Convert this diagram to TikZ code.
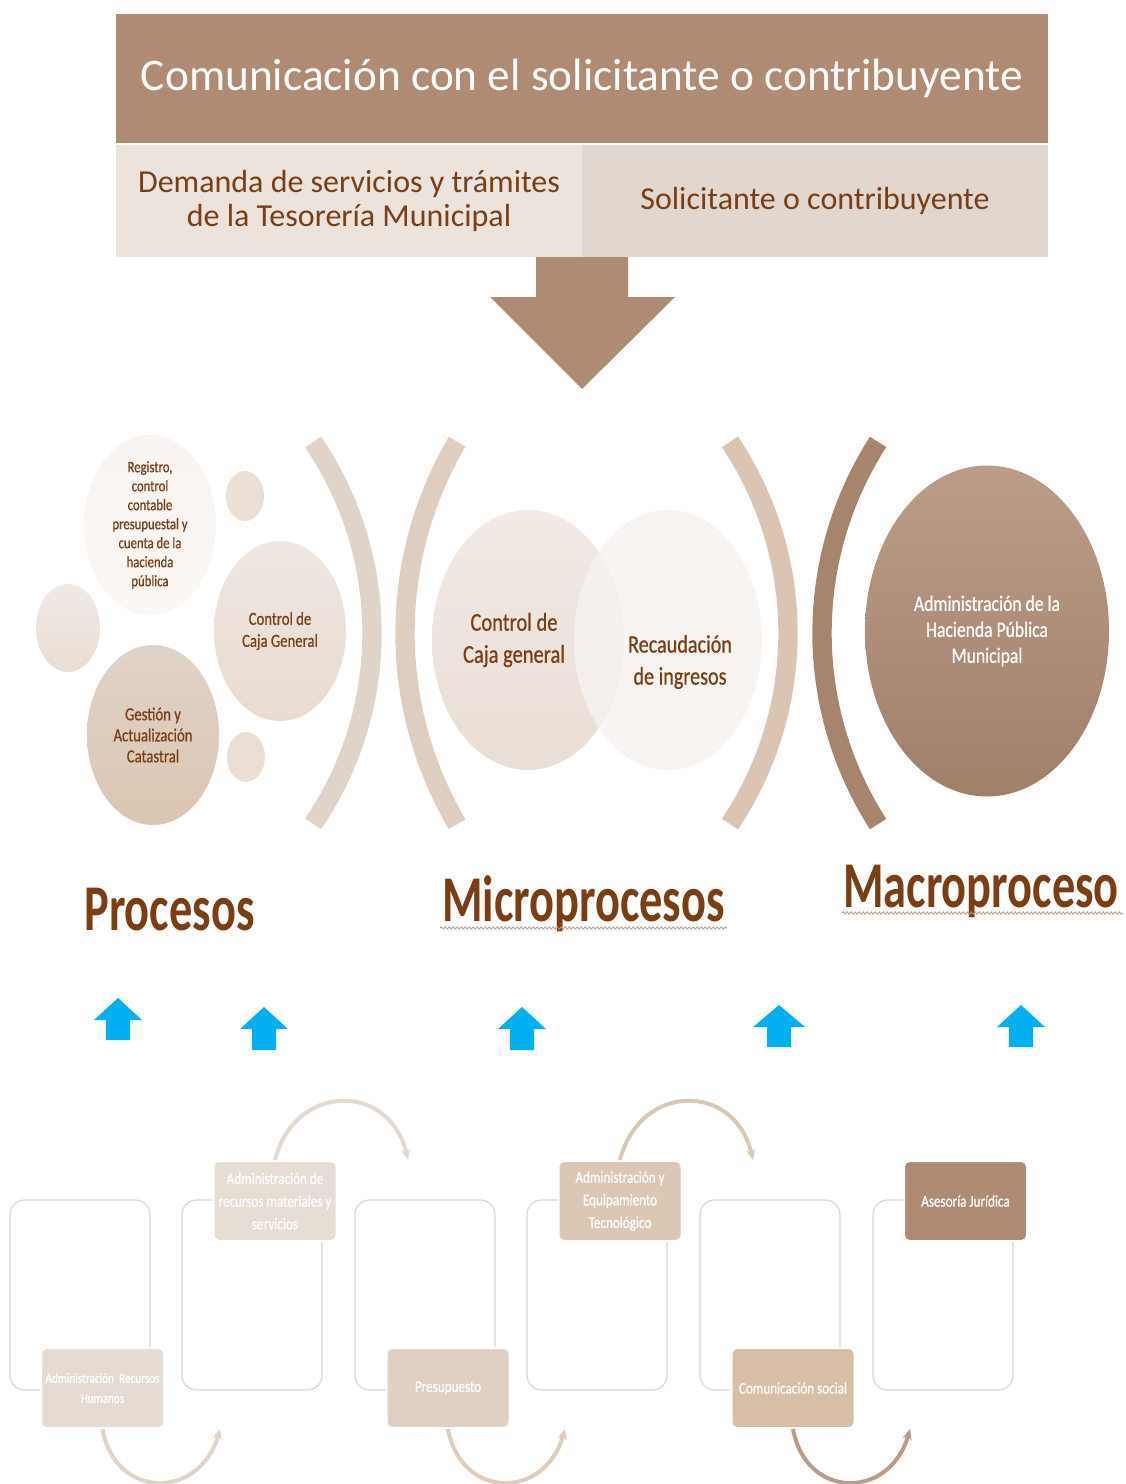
\documentclass[tikz,border=0pt]{standalone}
\usepackage{fontspec}
\setmainfont{Carlito}
\newfontfamily\condA[FakeStretch=0.8,FakeBold=0.6]{Carlito}
\newfontfamily\condB[FakeStretch=0.71]{Carlito}
\usetikzlibrary{shapes.geometric,arrows.meta,decorations.pathmorphing}
\definecolor{txt}{HTML}{7A3E14}
\definecolor{hdr}{HTML}{AF8B73}
\definecolor{cellL}{HTML}{ECE3DD}
\definecolor{cellR}{HTML}{E2D7CE}
\definecolor{sky}{HTML}{00B0F0}
\definecolor{obl}{HTML}{E2D4CA}
\definecolor{squigc}{HTML}{B89C8A}
\begin{document}
\begin{tikzpicture}[x=0.75pt,y=-0.75pt,
  bub/.style={ellipse, inner sep=0pt, align=center, text=txt},
  parc/.style={line width=14.5pt},
  obox/.style={draw=obl, line width=0.9pt, rounded corners=11pt, fill=white, minimum width=105pt, minimum height=142.5pt, inner sep=0pt},
  lbox/.style={draw=white, line width=1.5pt, rounded corners=4pt, text=white, align=center, minimum width=92.25pt, minimum height=60pt, inner sep=1pt, font=\condA\fontsize{12.3}{17}\selectfont},
  curv/.style={line width=3pt, -{Stealth[length=8pt,width=7pt]}},
  biglab/.style={text=txt, font=\condB\bfseries\fontsize{49}{55}\selectfont, inner sep=0pt, anchor=base},
  squig/.style={draw=squigc, line width=0.6pt, decorate, decoration={snake, amplitude=0.9pt, segment length=3pt}}
]
\useasboundingbox (0,0) rectangle (1125,1484);
\clip (0,0) rectangle (1125,1484);

% ---------- header ----------
\node[fill=hdr, minimum width=699pt, minimum height=96.75pt, inner sep=0pt, text=white,
      font=\fontsize{34}{38}\selectfont] (title) at (582,78.5) {Comunicación con el solicitante o contribuyente};
\node[fill=cellL, minimum width=349.5pt, minimum height=84pt, inner sep=0pt, text=txt, align=center,
      font=\fontsize{24}{25}\selectfont] (demanda) at (349,201) {Demanda de servicios y trámites\\de la Tesorería Municipal};
\node[fill=cellR, minimum width=349.5pt, minimum height=84pt, inner sep=0pt, text=txt,
      font=\fontsize{24}{25}\selectfont] (solic) at (815,201) {Solicitante o contribuyente};
\fill[hdr] (536,257) -- (628,257) -- (628,297) -- (675,297) -- (582,389) -- (490,297) -- (536,297) -- cycle;

% ---------- left group ----------
\node[bub, top color=white!60!cellL, bottom color=cellL!90!brown!20, minimum width=99pt, minimum height=135pt,
      font=\condA\fontsize{11.9}{14.25}\selectfont] (reg) at (150,525)
      {Registro,\\control\\contable\\presupuestal y\\cuenta de la\\hacienda\\pública};
\node[bub, fill=cellL!95!brown, minimum width=28.5pt, minimum height=37.5pt] (s1) at (245,496) {};
\node[bub, top color=cellL!80!white, bottom color=cellL!95!brown, minimum width=48pt, minimum height=66pt] (s2) at (68,628) {};
\node[bub, top color=cellL!85!white, bottom color=cellL!92!brown, minimum width=99pt, minimum height=135pt,
      font=\condA\fontsize{13.8}{16.5}\selectfont] (cajaG) at (280,631) {Control de\\Caja General};
\node[bub, top color=cellR!95!brown, bottom color=cellR!80!brown, minimum width=99pt, minimum height=135pt,
      font=\condA\fontsize{13.8}{15.75}\selectfont] (gest) at (153,735) {Gestión y\\Actualización\\Catastral};
\node[bub, fill=cellL!95!brown, minimum width=28.5pt, minimum height=37.5pt] (s3) at (246,757) {};
\draw[parc, color=cellR!95!brown] (33.3,633) ++(-34.3:338.7) arc[start angle=-34.3, end angle=34.3, radius=338.7];

% ---------- middle group ----------
\draw[parc, color=cellR!90!brown] (781.8,633) ++(149.5:376.8) arc[start angle=149.5, end angle=210.5, radius=376.8];
\node[bub, top color=cellL!75!white, bottom color=cellL!95!brown, minimum width=144pt, minimum height=195pt] (cg) at (528,640) {};
\node[bub, fill=cellL!45!white, fill opacity=0.85, minimum width=141pt, minimum height=195pt] (rec) at (668,640) {};
\node[text=txt, align=center, font=\condA\fontsize{19.2}{24}\selectfont] (cgt) at (514,640) {Control de\\Caja general};
\node[text=txt, align=center, font=\condA\fontsize{18.9}{24}\selectfont] (rect) at (680,662) {Recaudación\\de ingresos};
\draw[parc, color=cellR!80!brown] (444.5,633) ++(-33.8:343.5) arc[start angle=-33.8, end angle=33.8, radius=343.5];

% ---------- right group ----------
\draw[parc, color=hdr!95!black] (1175.7,633) ++(147.3:353.7) arc[start angle=147.3, end angle=212.7, radius=353.7];
\node[bub, top color=hdr!85!white, bottom color=hdr!92!black, minimum width=183pt, minimum height=248.25pt, text=white,
      font=\condA\fontsize{16.5}{19.5}\selectfont] (adm) at (987,631) {Administración de la\\Hacienda Pública\\Municipal};

% ---------- level labels ----------
\node[biglab] (procesos) at (169.5,930) {Procesos};
\node[biglab] (micro) at (583.5,921) {Microprocesos};
\node[biglab] (macro) at (981,907) {Macroproceso};
\draw[squig] (440,928) -- (727,928);
\draw[squig] (842,913) -- (1123,913);

% ---------- blue arrows ----------
\foreach \x/\t/\b/\h in {118/998/1040/24, 264/1007/1050/24, 522/1007/1050/24, 779/1005/1047/26, 1021/1005/1047/24}
  \fill[sky] (\x,\t) -- (\x+\h,\t+22) -- (\x+12,\t+22) -- (\x+12,\b) -- (\x-12,\b) -- (\x-12,\t+22) -- (\x-\h,\t+22) -- cycle;

% ---------- bottom process chain ----------
\node[obox] (r1) at (80,1295) {};
\node[obox] (r2) at (252,1295) {};
\node[obox] (r3) at (425,1295) {};
\node[obox] (r4) at (597,1295) {};
\node[obox] (r5) at (770,1295) {};
\node[obox] (r6) at (943,1295) {};

\node[lbox, fill=cellR!90!white, font=\condA\fontsize{10.5}{15}\selectfont] (l1) at (102.5,1388) {Administración\ \ Recursos\\Humanos};
\node[lbox, fill=cellR!85!white] (l2) at (275,1201) {Administración de\\recursos materiales y\\servicios};
\node[lbox, fill=cellR!92!brown] (l3) at (448,1388) {Presupuesto};
\node[lbox, fill=cellR!82!brown] (l4) at (620,1201) {Administración y\\Equipamiento\\Tecnológico};
\node[lbox, fill=cellR!72!brown] (l5) at (793,1388) {Comunicación social};
\node[lbox, fill=hdr] (l6) at (965.5,1201) {Asesoría Jurídica};

\coordinate (e1) at (220,1429);
\coordinate (e2) at (408,1160);
\coordinate (e3) at (565,1429);
\coordinate (e4) at (753,1160);
\coordinate (e5) at (910,1429);
\draw[curv, color=cellR!95!brown] (l1.south) .. controls (115,1500) and (200,1500) .. (e1);
\draw[curv, color=cellR!95!white] (l2.north) .. controls (295,1082) and (390,1082) .. (e2);
\draw[curv, color=cellR!88!brown] (l3.south) .. controls (461,1500) and (545,1500) .. (e3);
\draw[curv, color=cellR!82!brown] (l4.north) .. controls (640,1082) and (735,1082) .. (e4);
\draw[curv, color=hdr!85!white] (l5.south) .. controls (806,1500) and (890,1500) .. (e5);
\end{tikzpicture}
\end{document}
